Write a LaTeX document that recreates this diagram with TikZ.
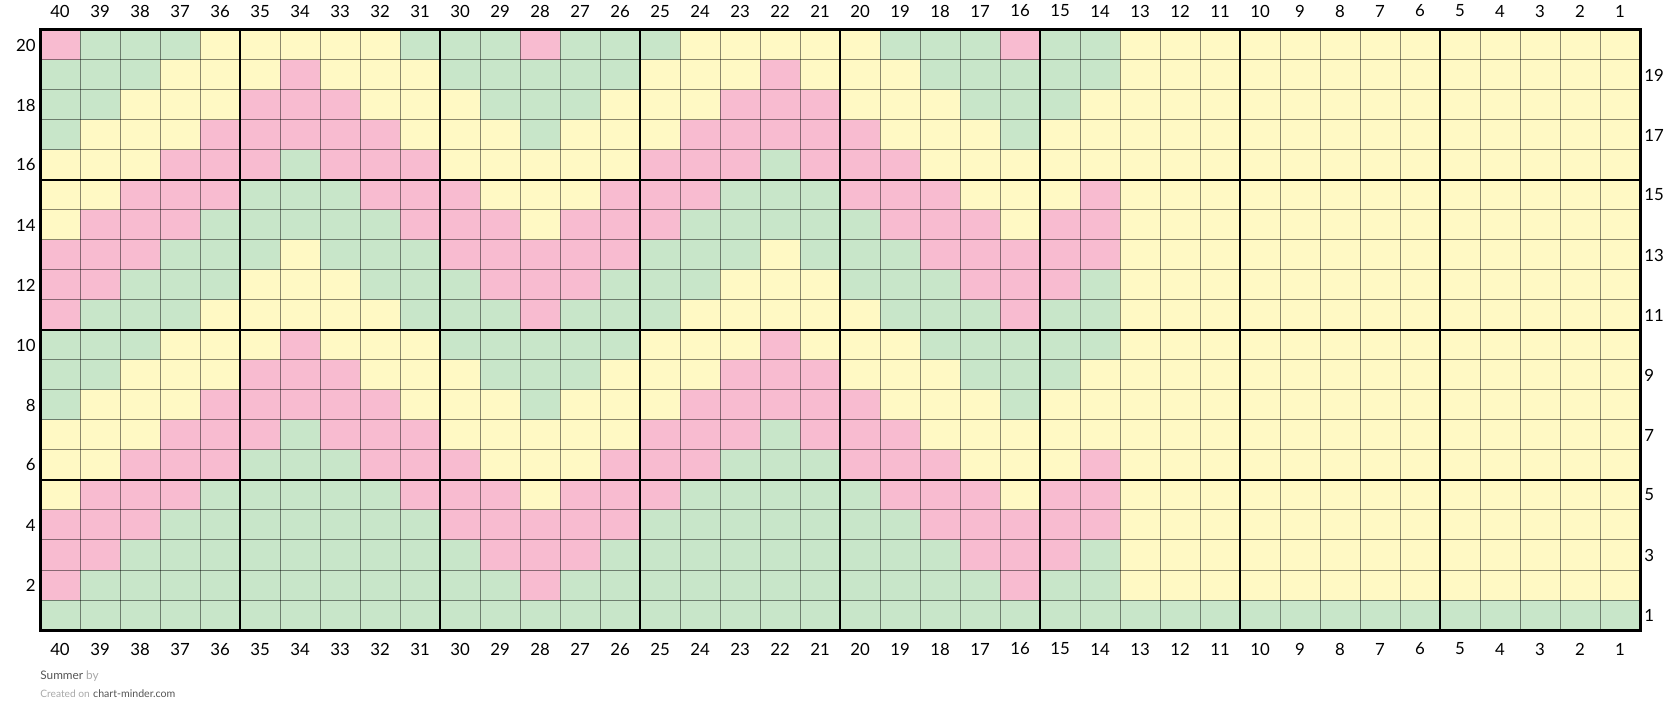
\documentclass[tikz,border=0pt]{standalone}
\usepackage{fontspec}
\setmainfont{Lato}
\usepackage{xcolor}
\usepackage{tikz}
\usetikzlibrary{positioning}
\definecolor{knitP}{HTML}{F8BBD0}
\definecolor{knitG}{HTML}{C8E6C9}
\definecolor{knitY}{HTML}{FFF9C4}
\definecolor{footdark}{HTML}{555555}
\definecolor{footlight}{HTML}{A8A8A8}
\tikzset{
  numlbl/.style={font=\fontsize{8.4}{10}\selectfont, inner sep=0pt, text=black},
  thinrule/.style={draw=black, draw opacity=0.45, line width=0.5pt},
  thickrule/.style={draw=black, line width=1pt},
  border/.style={draw=black, line width=1.5pt},
  % footer styles
  foot/.style={anchor=base west, inner sep=0pt, align=left},
}

\begin{document}
\begin{tikzpicture}[x=0.5pt, y=0.5pt]
\useasboundingbox (0,0) rectangle (1680,723);
% plain background: yellow, cast-on row green
\fill[knitY] (40,93) rectangle (1640,693);
\fill[knitG] (40,93) rectangle (1640,123);
% pattern area, columns 40 to 14
\foreach \r/\cells in {
  20/{P,G,G,G,Y,Y,Y,Y,Y,G,G,G,P,G,G,G,Y,Y,Y,Y,Y,G,G,G,P,G,G},
  19/{G,G,G,Y,Y,Y,P,Y,Y,Y,G,G,G,G,G,Y,Y,Y,P,Y,Y,Y,G,G,G,G,G},
  18/{G,G,Y,Y,Y,P,P,P,Y,Y,Y,G,G,G,Y,Y,Y,P,P,P,Y,Y,Y,G,G,G,Y},
  17/{G,Y,Y,Y,P,P,P,P,P,Y,Y,Y,G,Y,Y,Y,P,P,P,P,P,Y,Y,Y,G,Y,Y},
  16/{Y,Y,Y,P,P,P,G,P,P,P,Y,Y,Y,Y,Y,P,P,P,G,P,P,P,Y,Y,Y,Y,Y},
  15/{Y,Y,P,P,P,G,G,G,P,P,P,Y,Y,Y,P,P,P,G,G,G,P,P,P,Y,Y,Y,P},
  14/{Y,P,P,P,G,G,G,G,G,P,P,P,Y,P,P,P,G,G,G,G,G,P,P,P,Y,P,P},
  13/{P,P,P,G,G,G,Y,G,G,G,P,P,P,P,P,G,G,G,Y,G,G,G,P,P,P,P,P},
  12/{P,P,G,G,G,Y,Y,Y,G,G,G,P,P,P,G,G,G,Y,Y,Y,G,G,G,P,P,P,G},
  11/{P,G,G,G,Y,Y,Y,Y,Y,G,G,G,P,G,G,G,Y,Y,Y,Y,Y,G,G,G,P,G,G},
  10/{G,G,G,Y,Y,Y,P,Y,Y,Y,G,G,G,G,G,Y,Y,Y,P,Y,Y,Y,G,G,G,G,G},
  9/{G,G,Y,Y,Y,P,P,P,Y,Y,Y,G,G,G,Y,Y,Y,P,P,P,Y,Y,Y,G,G,G,Y},
  8/{G,Y,Y,Y,P,P,P,P,P,Y,Y,Y,G,Y,Y,Y,P,P,P,P,P,Y,Y,Y,G,Y,Y},
  7/{Y,Y,Y,P,P,P,G,P,P,P,Y,Y,Y,Y,Y,P,P,P,G,P,P,P,Y,Y,Y,Y,Y},
  6/{Y,Y,P,P,P,G,G,G,P,P,P,Y,Y,Y,P,P,P,G,G,G,P,P,P,Y,Y,Y,P},
  5/{Y,P,P,P,G,G,G,G,G,P,P,P,Y,P,P,P,G,G,G,G,G,P,P,P,Y,P,P},
  4/{P,P,P,G,G,G,G,G,G,G,P,P,P,P,P,G,G,G,G,G,G,G,P,P,P,P,P},
  3/{P,P,G,G,G,G,G,G,G,G,G,P,P,P,G,G,G,G,G,G,G,G,G,P,P,P,G},
  2/{P,G,G,G,G,G,G,G,G,G,G,G,P,G,G,G,G,G,G,G,G,G,G,G,P,G,G}}
  \foreach \k [count=\i] in \cells
    \fill[knit\k] (40*\i,63+30*\r) rectangle ++(40,30);
% grid
\foreach \i in {0,...,40}
  \draw[thinrule] (40+40*\i,93) -- (40+40*\i,693);
\foreach \j in {0,...,20}
  \draw[thinrule] (40,93+30*\j) -- (1640,93+30*\j);
\foreach \i in {5,10,...,35}
  \draw[thickrule] (40+40*\i,93) -- (40+40*\i,693);
\foreach \j in {5,10,15}
  \draw[thickrule] (40,93+30*\j) -- (1640,93+30*\j);
\draw[border] (40,93) rectangle (1640,693);
% stitch numbers
\foreach \c in {1,...,40} {
  \node[numlbl] (ct\c) at (1620-40*\c+40,712) {\c};
  \node[numlbl] (cb\c) at (1620-40*\c+40,74) {\c};
}
\foreach \r in {2,4,...,20}
  \node[numlbl, anchor=east] (rl\r) at (36,78+30*\r) {\r};
\foreach \r in {1,3,...,19}
  \node[numlbl, anchor=west] (rl\r) at (1644,78+30*\r) {\r};
% footer
\node[foot, font=\fontsize{5.9}{7}\selectfont] (title) at (40,44)
  {\textcolor{footdark}{Summer} \textcolor{footlight}{by}};
\node[foot] (credit) at (40,26)
  {\textcolor{footlight}{\fontsize{5.1}{6}\selectfont Created on}\,\textcolor{footdark}{\fontsize{5.3}{7}\selectfont chart-minder.com}};
\end{tikzpicture}
\end{document}
